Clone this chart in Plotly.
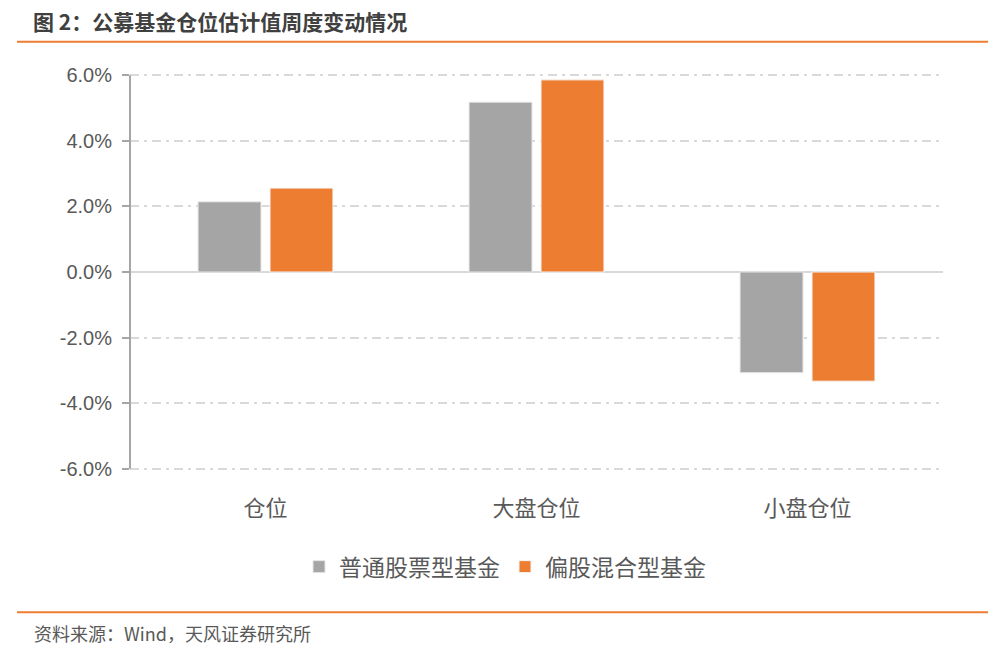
import plotly.graph_objects as go

categories = ["仓位", "大盘仓位", "小盘仓位"]
series_names = ["普通股票型基金", "偏股混合型基金"]
stock_fund = [2.14, 5.18, -3.07]
mixed_fund = [2.56, 5.86, -3.33]
y_ticks = [-6, -4, -2, 0, 2, 4, 6]
y_tick_labels = ["-6.0%", "-4.0%", "-2.0%", "0.0%", "2.0%", "4.0%", "6.0%"]

title_text = "图 2：公募基金仓位估计值周度变动情况"
source_text = "资料来源：Wind，天风证券研究所"

GRAY = "#a5a5a5"
ORANGE = "#ed7d31"
TEXT = "#595959"
FONT = "Liberation Sans, Noto Sans CJK SC, sans-serif"
CJK = "Noto Sans CJK SC, sans-serif"

fig = go.Figure()
fig.add_trace(go.Bar(x=categories, y=stock_fund, name=series_names[0],
                     marker=dict(color=GRAY, line=dict(color="#e6e6e6", width=1))))
fig.add_trace(go.Bar(x=categories, y=mixed_fund, name=series_names[1],
                     marker=dict(color=ORANGE, line=dict(color="#f5f5f5", width=1))))

# plot area geometry (pixels)
L, R, T, B = 130, 57, 72.2, 176.7
W, H = 1000, 649
pw, ph = W - L - R, H - T - B

def px(x):
    return (x - L) / pw

def py(y):
    return (H - B - y) / ph

fig.update_layout(
    width=W, height=H,
    margin=dict(l=L, r=R, t=T, b=B, pad=0),
    paper_bgcolor="white", plot_bgcolor="white",
    barmode="group", bargap=0.469, bargroupgap=0.125,
    font=dict(family=FONT, color=TEXT),
    showlegend=True,
    legend=dict(orientation="h", x=px(505), xanchor="center", y=py(567), yanchor="middle",
                font=dict(family=CJK, size=23, color=TEXT), traceorder="normal",
                itemwidth=30, bgcolor="rgba(0,0,0,0)"),
    xaxis=dict(showline=False, ticks="", showgrid=False,
               tickfont=dict(family=CJK, size=22, color=TEXT), ticklabelstandoff=21),
    yaxis=dict(range=[-6.1, 6.1], tickvals=y_ticks, ticktext=y_tick_labels,
               showgrid=True, gridcolor="#d9d9d9", gridwidth=2, griddash="9px,5px,3px,5px",
               zeroline=True, zerolinecolor="#d9d9d9", zerolinewidth=2,
               showline=False,
               ticks="outside", ticklen=7, tickwidth=2, tickcolor="#a6a6a6",
               tickfont=dict(family=FONT, size=20, color=TEXT), ticklabelstandoff=6),
)

# vertical value-axis line spanning the -6% .. 6% tick range
fig.add_shape(type="line", xref="paper", yref="y", x0=0, x1=0, y0=y_ticks[0], y1=y_ticks[-1],
              line=dict(color="#a6a6a6", width=2), layer="above")

# header and footer rules
fig.add_shape(type="line", xref="paper", yref="paper", x0=px(17), x1=px(988), y0=py(42), y1=py(42),
              line=dict(color=ORANGE, width=2))
fig.add_shape(type="line", xref="paper", yref="paper", x0=px(17), x1=px(988), y0=py(612.5), y1=py(612.5),
              line=dict(color=ORANGE, width=2))

fig.add_annotation(text="<b>" + title_text + "</b>", xref="paper", yref="paper",
                   x=px(31), y=py(21), xanchor="left", yanchor="middle", showarrow=False,
                   font=dict(family=CJK, size=21, color="#404040"))
fig.add_annotation(text=source_text, xref="paper", yref="paper",
                   x=px(32), y=py(633), xanchor="left", yanchor="middle", showarrow=False,
                   font=dict(family=CJK, size=18, color=TEXT))

fig.write_html("out.html", config={"displayModeBar": False},
               post_script="document.body.style.margin='0';")
